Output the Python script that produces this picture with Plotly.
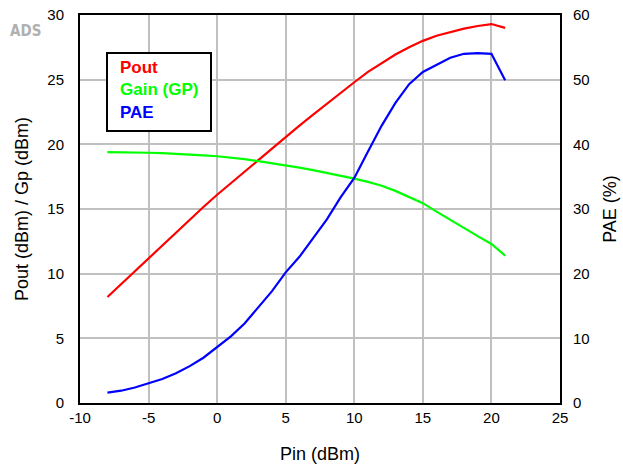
import plotly.graph_objects as go

pin = [-8, -7, -6, -5, -4, -3, -2, -1, 0, 1, 2, 3, 4, 5, 6, 7, 8, 9, 10,
       11, 12, 13, 14, 15, 16, 17, 18, 19, 20, 21]
pout = [8.2, 9.2, 10.2, 11.2, 12.2, 13.2, 14.2, 15.15, 16.1, 17.0, 17.9, 18.8,
        19.7, 20.6, 21.45, 22.3, 23.15, 24.0, 24.8, 25.6, 26.3, 26.95, 27.5,
        28.0, 28.4, 28.7, 28.95, 29.15, 29.3, 29.0]
gain = [19.4, 19.4, 19.38, 19.35, 19.32, 19.28, 19.22, 19.15, 19.08, 18.98,
        18.85, 18.7, 18.55, 18.4, 18.2, 18.0, 17.8, 17.6, 17.35, 17.1, 16.8,
        16.4, 15.9, 15.45, 14.8, 14.16, 13.5, 12.9, 12.3, 11.4]
pae = [1.6, 1.9, 2.4, 3.0, 3.7, 4.6, 5.7, 7.0, 8.6, 10.3, 12.3, 14.8, 17.3,
       20.2, 22.6, 25.5, 28.4, 31.8, 34.8, 38.9, 42.9, 46.4, 49.3, 51.2, 52.3,
       53.4, 54.0, 54.1, 54.0, 49.9]

legend_names = ["Pout", "Gain (GP)", "PAE"]
colors = ["#ff0000", "#00ff00", "#0000ff"]

x_ticks = [-10, -5, 0, 5, 10, 15, 20, 25]
x_labels = ["-10", "-5", "0", "5", "10", "15", "20", "25"]
y1_ticks = [0, 5, 10, 15, 20, 25, 30]
y2_ticks = [0, 10, 20, 30, 40, 50, 60]

fig = go.Figure()
fig.add_trace(go.Scatter(x=pin, y=pout, mode="lines", name=legend_names[0],
                         line=dict(color=colors[0], width=2.2)))
fig.add_trace(go.Scatter(x=pin, y=gain, mode="lines", name=legend_names[1],
                         line=dict(color=colors[1], width=2.2)))
fig.add_trace(go.Scatter(x=pin, y=pae, mode="lines", name=legend_names[2],
                         yaxis="y2", line=dict(color=colors[2], width=2.2)))

font_family = "Liberation Sans, Arial, sans-serif"
grid_col = "#c0c0c0"

fig.update_layout(
    width=623, height=465,
    margin=dict(l=80, r=63, t=15, b=62),
    paper_bgcolor="white", plot_bgcolor="white",
    showlegend=False,
    font=dict(family=font_family, size=15, color="black"),
    xaxis=dict(range=[-10, 25], tickvals=x_ticks, ticktext=x_labels,
               showgrid=True, automargin=False,
               gridcolor=grid_col, gridwidth=2, zeroline=False,
               showline=True, linecolor="black", linewidth=2, mirror=True,
               ticks="",
               title=dict(text="Pin (dBm)", font=dict(size=18), standoff=22),
               tickfont=dict(size=15)),
    yaxis=dict(range=[0, 30], tickvals=y1_ticks, showgrid=True,
               automargin=False,
               gridcolor=grid_col, gridwidth=2, zeroline=False,
               showline=True, linecolor="black", linewidth=2, mirror=True,
               ticks="outside", ticklen=11, tickcolor="rgba(0,0,0,0)",
               title=dict(text="Pout (dBm) / Gp (dBm)", font=dict(size=18),
                          standoff=14),
               tickfont=dict(size=15)),
    yaxis2=dict(range=[0, 60], tickvals=y2_ticks, overlaying="y",
                side="right", showgrid=False, zeroline=False,
                automargin=False,
                ticks="outside", ticklen=9, tickcolor="rgba(0,0,0,0)",
                title=dict(text="PAE (%)", font=dict(size=18), standoff=14),
                tickfont=dict(size=15)),
)

# legend box
fig.add_shape(type="rect", xref="paper", yref="paper",
              x0=(107 - 80) / 480, x1=(211 - 80) / 480,
              y0=(403 - 131) / 388, y1=(403 - 53) / 388,
              line=dict(color="black", width=2), fillcolor="white")
for i, (name, c) in enumerate(zip(legend_names, colors)):
    yc = [68, 90, 112][i]
    fig.add_annotation(xref="paper", yref="paper",
                       x=(118 - 80) / 480, y=(403 - yc) / 388,
                       xanchor="left", yanchor="middle", showarrow=False,
                       text="<b>" + name + "</b>",
                       font=dict(color=c, size=17, family=font_family))

fig.add_annotation(xref="paper", yref="paper", x=(8 - 80) / 480,
                   y=(403 - 31) / 388, xanchor="left", yanchor="middle",
                   showarrow=False, text="<b>ADS</b>",
                   font=dict(color="#b0b0b0", size=15,
                             family="DejaVu Sans Condensed, DejaVu Sans"))

fig.write_html(
    "out.html",
    config={"displayModeBar": False},
    post_script="document.body.style.margin='0';"
                "document.body.style.overflow='hidden';",
)
